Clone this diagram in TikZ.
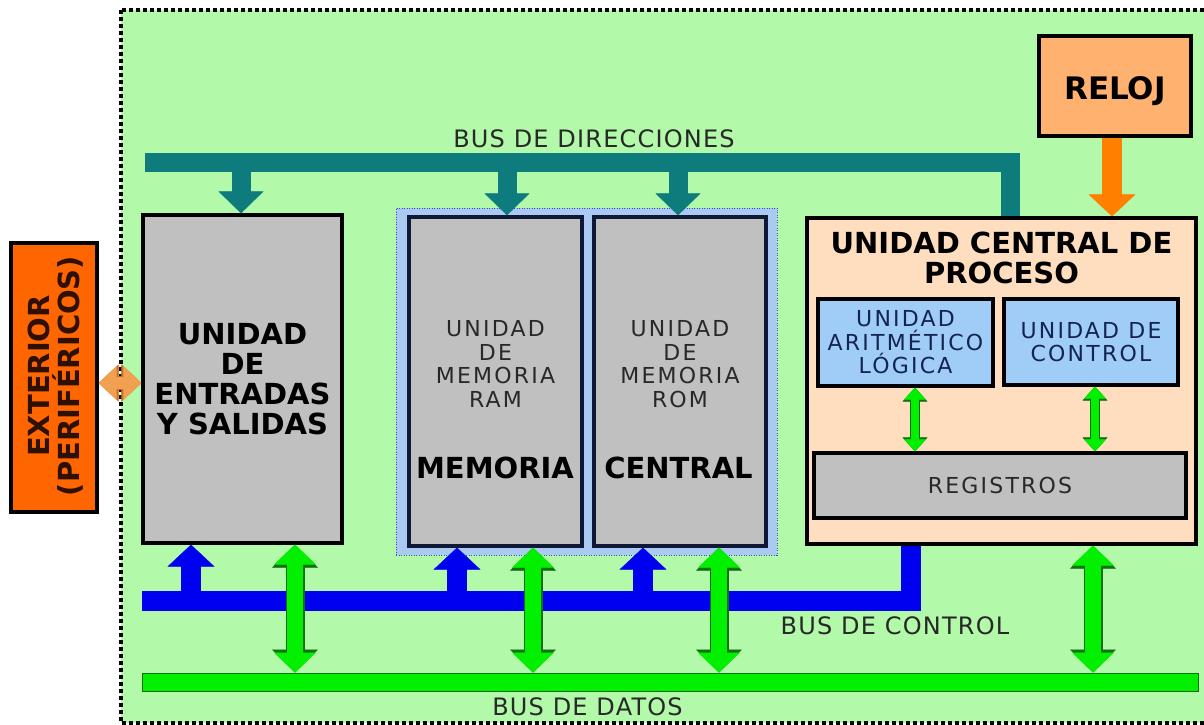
\documentclass[tikz,border=0pt]{standalone}
\usepackage{fontspec}
\setmainfont{DejaVu Sans}
\newfontfamily\spacedfont{DejaVu Sans}[LetterSpace=10]
\newfontfamily\labelfont{DejaVu Sans}[LetterSpace=5]
\usetikzlibrary{arrows.meta,calc}
\definecolor{bgGreen}{RGB}{178,250,170}
\definecolor{busTeal}{RGB}{14,124,124}
\definecolor{busBlue}{RGB}{0,0,240}
\definecolor{busGreen}{RGB}{0,240,0}
\definecolor{darkGreen}{RGB}{20,110,20}
\definecolor{boxGray}{RGB}{192,192,192}
\definecolor{memBlue}{RGB}{170,202,242}
\definecolor{memDot}{RGB}{50,80,190}
\definecolor{memBorder}{RGB}{16,24,56}
\definecolor{cpuPeach}{RGB}{255,222,192}
\definecolor{unitBlue}{RGB}{160,204,248}
\definecolor{relojOrange}{RGB}{255,178,112}
\definecolor{extOrange}{RGB}{255,102,0}
\definecolor{clockOrange}{RGB}{255,128,0}
\definecolor{linkOrange}{RGB}{240,160,80}
\definecolor{linkBorder}{RGB}{200,110,30}
\definecolor{textNavy}{RGB}{20,36,80}
\definecolor{textDark}{RGB}{40,40,40}
\definecolor{extText}{RGB}{45,16,0}

\begin{document}
\begin{tikzpicture}[x=1pt, y=-1pt,
    block/.style={draw=black, line width=3.2pt, inner sep=0pt, align=center},
    bigtext/.style={font=\fontsize{29}{30}\selectfont\bfseries, align=center},
    smalltext/.style={font=\fontsize{22}{23.5}\selectfont\spacedfont, align=center},
    buslabel/.style={font=\fontsize{24}{26}\selectfont\labelfont, text=textDark},
    addrarrow/.style={draw=busTeal, line width=19pt, -{Triangle[width=45pt, length=22pt, line width=0.5pt]}},
    ctrlarrow/.style={draw=busBlue, line width=20pt, -{Triangle[width=47pt, length=22pt, line width=0.5pt]}},
    clockarrow/.style={draw=clockOrange, line width=20pt, -{Triangle[width=47pt, length=22pt, line width=0.5pt]}},
    dataarrow/.style={draw=busGreen, line width=16pt,
        {Triangle[width=42pt, length=20pt, line width=0.5pt]}-{Triangle[width=42pt, length=20pt, line width=0.5pt]},
        preaction={draw=darkGreen, line width=19pt,
        {Triangle[width=46pt, length=23pt, line width=0.5pt]}-{Triangle[width=46pt, length=23pt, line width=0.5pt]}}},
    regarrow/.style={draw=busGreen, line width=8pt,
        {Triangle[width=22pt, length=12pt, line width=0.5pt]}-{Triangle[width=22pt, length=12pt, line width=0.5pt]},
        preaction={draw=darkGreen, line width=10pt,
        {Triangle[width=25pt, length=14pt, line width=0.5pt]}-{Triangle[width=25pt, length=14pt, line width=0.5pt]}}},
    extarrow/.style={draw=linkOrange, line width=12pt,
        {Triangle[width=34pt, length=18pt, line width=0.5pt]}-{Triangle[width=34pt, length=18pt, line width=0.5pt]},
        preaction={draw=linkBorder, line width=14pt,
        {Triangle[width=37pt, length=20pt, line width=0.5pt]}-{Triangle[width=37pt, length=20pt, line width=0.5pt]}}}
]
\useasboundingbox (0,0) rectangle (1204,725);
\clip (0,0) rectangle (1204,725);
\fill[white] (0,0) rectangle (1204,725);

% area of the computer
\filldraw[fill=bgGreen, draw=black, line width=4pt, dash pattern=on 4pt off 3pt] (121,10) rectangle (1220,723);

% outside world
\node[block, fill=extOrange, minimum width=86pt, minimum height=269pt] (ext) at (54,377.5) {};
\node[bigtext, rotate=90, text=extText] at (56,376) {EXTERIOR\\(PERIFÉRICOS)};

% input / output
\node[block, fill=boxGray, minimum width=199pt, minimum height=328pt, bigtext] (es) at (242.5,379) {UNIDAD\\DE\\ENTRADAS\\Y SALIDAS};

% main memory
\node[draw=memDot, fill=memBlue, line width=1pt, dash pattern=on 1pt off 1.5pt, minimum width=381pt, minimum height=347pt] (mem) at (586.5,381.5) {};
\node[block, draw=memBorder, fill=boxGray, minimum width=173pt, minimum height=329pt] (ram) at (495.5,381.5) {};
\node[block, draw=memBorder, fill=boxGray, minimum width=172pt, minimum height=329pt] (rom) at (680,381.5) {};
\node[smalltext, text=textDark] at (495.5,364) {UNIDAD\\DE\\MEMORIA\\RAM};
\node[smalltext, text=textDark] at (680,364) {UNIDAD\\DE\\MEMORIA\\ROM};
\node[bigtext] at (495,467.5) {MEMORIA};
\node[bigtext] at (678.5,467.5) {CENTRAL};

% processor
\node[block, fill=cpuPeach, minimum width=389pt, minimum height=326pt] (cpu) at (1001.5,381) {};
\node[bigtext] (cputitle) at (1001.5,258) {UNIDAD CENTRAL DE\\PROCESO};
\node[block, fill=unitBlue, minimum width=175pt, minimum height=87pt, smalltext, text=textNavy] (alu) at (905.5,342.5) {UNIDAD\\ARITMÉTICO\\LÓGICA};
\node[block, fill=unitBlue, minimum width=174pt, minimum height=86pt, smalltext, text=textNavy] (uc) at (1091,342) {UNIDAD DE\\CONTROL};
\node[block, fill=boxGray, minimum width=372pt, minimum height=65pt, smalltext, text=textDark] (reg) at (1000,485.5) {REGISTROS};
\foreach \name/\dx in {alu/9.5, uc/4}
  \draw[regarrow] let \p1 = ([xshift=\dx pt]\name.south), \p2 = (reg.north) in (\p1) -- (\x1,\y2);

% clock
\node[block, fill=relojOrange, minimum width=152pt, minimum height=100pt] (reloj) at (1115,86) {};
\node[bigtext, font=\fontsize{31}{32}\selectfont\bfseries] at ([yshift=-5pt]reloj.center) {RELOJ};
\draw[clockarrow] let \p1 = ([xshift=-3pt]reloj.south), \p2 = (cpu.north) in (\p1) -- (\x1,\y2);

% address bus
\coordinate (abusL) at (145,162);
\coordinate (abusR) at (1010,162);
\draw[busTeal, line width=19pt] (abusL) -- (abusR) -- (abusR |- cpu.north);
\foreach \name/\dx in {es/-1.5, ram/11.5, rom/-2}
  \draw[addrarrow] let \p1 = ([xshift=\dx pt]\name.north), \p2 = (abusL) in (\x1,\y2) -- (\p1);
\node[buslabel] at (594,138.5) {BUS DE DIRECCIONES};

% control bus
\coordinate (cbusL) at (142,600.5);
\coordinate (cbusR) at (910.5,600.5);
\draw[busBlue, line width=20pt] (cbusL) -- (cbusR) -- (cbusR |- cpu.south);
\foreach \name/\dx in {es/-51.5, ram/-38.5, rom/-37}
  \draw[ctrlarrow] let \p1 = ([xshift=\dx pt]\name.south), \p2 = (cbusL) in (\x1,\y2) -- (\p1);
\node[buslabel] at (895,625.5) {BUS DE CONTROL};

% data bus
\node[draw=darkGreen, fill=busGreen, line width=1pt, minimum width=1056pt, minimum height=18pt, inner sep=0pt] (dbus) at (670,682) {};
\foreach \name/\dx in {es/52.5, ram/37.5, rom/39, cpu/91.5}
  \draw[dataarrow] let \p1 = ([xshift=\dx pt]\name.south), \p2 = (dbus.north) in (\p1) -- (\x1,\y2);
\node[buslabel] at (587.5,706.5) {BUS DE DATOS};

% link to the outside
\draw[extarrow] let \p1 = ([yshift=-5.5pt]ext.east), \p2 = (es.west) in (\p1) -- (\x2,\y1);
\end{tikzpicture}
\end{document}
